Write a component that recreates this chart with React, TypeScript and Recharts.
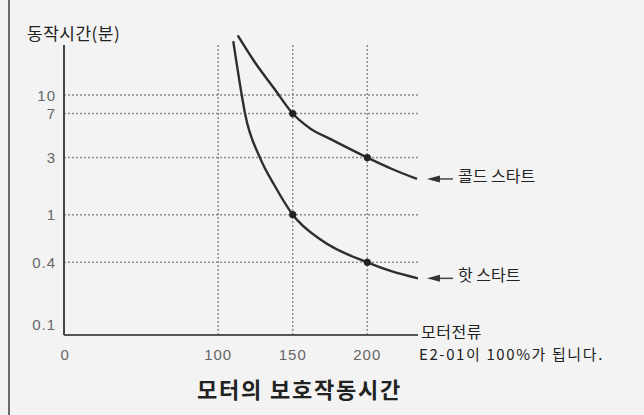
import React from 'react';
import { ComposedChart, Line, XAxis, YAxis, ReferenceLine, ReferenceDot } from 'recharts';

// ---- data ----
const xTicks = [0, 100, 150, 200];
const yTicks = [0.1, 0.4, 1, 3, 7, 10];
const xGridValues = [100, 150, 200];
const yGridValues = [0.4, 1, 3, 7, 10];

const coldStart = [
  { x: 113.1, y: 31.5 },
  { x: 124.7, y: 18.7 },
  { x: 137.4, y: 11.4 },
  { x: 150, y: 7 },
  { x: 162.2, y: 5.2 },
  { x: 175.0, y: 4.3 },
  { x: 200, y: 3 },
  { x: 216.6, y: 2.41 },
  { x: 233.3, y: 1.99 },
];

const hotStart = [
  { x: 110.1, y: 28.2 },
  { x: 115.8, y: 10 },
  { x: 118.0, y: 7 },
  { x: 128.0, y: 3 },
  { x: 138.1, y: 1.73 },
  { x: 150, y: 1 },
  { x: 169.6, y: 0.608 },
  { x: 200, y: 0.4 },
  { x: 216.6, y: 0.336 },
  { x: 234.0, y: 0.294 },
];

const coldMarkers = [
  { x: 150, y: 7 },
  { x: 200, y: 3 },
];
const hotMarkers = [
  { x: 150, y: 1 },
  { x: 200, y: 0.4 },
];

const coldLabel = '콜드 스타트';
const hotLabel = '핫 스타트';
const yAxisTitle = '동작시간(분)';
const xAxisTitle = '모터전류';
const xAxisNote = 'E2-01이 100%가 됩니다.';
const chartTitle = '모터의 보호작동시간';

// ---- scale settings ----
const X_MIN = -3.4;
const X_MAX = 234;
const Y_MIN = 0.0989;
const Y_MAX = 32.96;
const AXIS_TOP = 26.2; // value where the drawn y axis / vertical grid stop
const ARROW_HEAD_X = 240;
const ARROW_TAIL_X = 256.5;

const KR_FONT = '"Noto Sans CJK KR", "Noto Sans", sans-serif';
const NUM_FONT = '"Liberation Sans", Arial, sans-serif';

const ArrowShape = (props: any) => {
  const { x1, y1, x2, text } = props;
  const hx = Math.min(x1, x2);
  return (
    <g>
      <line x1={hx + 10} y1={y1} x2={hx + 26} y2={y1} stroke="#444" strokeWidth={1.5} />
      <polygon points={`${hx},${y1} ${hx + 13},${y1 - 3.5} ${hx + 13},${y1 + 3.5}`} fill="#333" />
      <text
        x={hx + 31}
        y={y1 - 4}
        dominantBaseline="central"
        fontSize={16}
        fontFamily={KR_FONT}
        fill="#222"
      >
        {text}
      </text>
    </g>
  );
};

const YTick = (props: any) => {
  const { x, y, payload } = props;
  const lift = payload.value === yTicks[0] ? -10 : 0;
  return (
    <text
      x={x}
      y={y + lift}
      textAnchor="end"
      dominantBaseline="central"
      fill="#666"
      fontSize={15}
      fontFamily={NUM_FONT}
      letterSpacing={1}
    >
      {String(payload.value)}
    </text>
  );
};

const XTick = (props: any) => {
  const { x, y, payload } = props;
  const shift = payload.value === xTicks[0] ? -4 : 0;
  return (
    <text
      x={x + shift}
      y={y}
      dy="0.71em"
      textAnchor="middle"
      fill="#666"
      fontSize={15}
      fontFamily={NUM_FONT}
      letterSpacing={1}
    >
      {String(payload.value)}
    </text>
  );
};

export default function App() {
  const textStyle: React.CSSProperties = {
    position: 'absolute',
    fontFamily: KR_FONT,
    color: '#222',
    whiteSpace: 'nowrap',
  };
  return (
    <div
      style={{
        position: 'fixed',
        left: 0,
        top: 0,
        width: 644,
        height: 415,
        background: '#f3f3f3',
        overflow: 'hidden',
      }}
    >
      <div style={{ position: 'absolute', left: 8, top: 0, width: 1.5, height: 415, background: '#6a6a6a' }} />
      <ComposedChart
        width={644}
        height={415}
        margin={{ top: 33, right: 226, bottom: 50, left: 14 }}
        style={{ position: 'absolute', left: 0, top: 0 }}
      >
        <XAxis
          type="number"
          dataKey="x"
          domain={[X_MIN, X_MAX]}
          ticks={xTicks}
          interval={0}
          allowDataOverflow
          height={30}
          tickLine={false}
          tickMargin={8}
          axisLine={{ stroke: '#555', strokeWidth: 2 }}
          tick={<XTick />}
        />
        <YAxis
          type="number"
          dataKey="y"
          scale="log"
          domain={[Y_MIN, Y_MAX]}
          ticks={yTicks}
          interval={0}
          allowDataOverflow
          width={50}
          tickLine={false}
          axisLine={false}
          tick={<YTick />}
        />
        {yGridValues.map((v) => (
          <ReferenceLine key={`hy${v}`} y={v} stroke="#8c8c8c" strokeWidth={1.5} strokeDasharray="2 2" />
        ))}
        {xGridValues.map((v) => (
          <ReferenceLine
            key={`vx${v}`}
            segment={[
              { x: v, y: Y_MIN },
              { x: v, y: AXIS_TOP },
            ]}
            stroke="#8c8c8c"
            strokeWidth={1.5}
            strokeDasharray="2 2"
          />
        ))}
        <ReferenceLine
          segment={[
            { x: X_MIN, y: Y_MIN },
            { x: X_MIN, y: AXIS_TOP },
          ]}
          stroke="#444"
          strokeWidth={2}
        />
        <Line
          data={coldStart}
          dataKey="y"
          type="monotone"
          stroke="#2e2e2e"
          strokeWidth={2.4}
          dot={false}
          activeDot={false}
          isAnimationActive={false}
        />
        <Line
          data={hotStart}
          dataKey="y"
          type="monotone"
          stroke="#2e2e2e"
          strokeWidth={2.4}
          dot={false}
          activeDot={false}
          isAnimationActive={false}
        />
        {[...coldMarkers, ...hotMarkers].map((p, i) => (
          <ReferenceDot key={`m${i}`} x={p.x} y={p.y} r={3.6} fill="#222" stroke="none" />
        ))}
        <ReferenceLine
          ifOverflow="visible"
          segment={[
            { x: ARROW_HEAD_X, y: coldStart[coldStart.length - 1].y },
            { x: ARROW_TAIL_X, y: coldStart[coldStart.length - 1].y },
          ]}
          shape={(p: any) => <ArrowShape {...p} text={coldLabel} />}
        />
        <ReferenceLine
          ifOverflow="visible"
          segment={[
            { x: ARROW_HEAD_X, y: hotStart[hotStart.length - 1].y },
            { x: ARROW_TAIL_X, y: hotStart[hotStart.length - 1].y },
          ]}
          shape={(p: any) => <ArrowShape {...p} text={hotLabel} />}
        />
      </ComposedChart>
      <div style={{ ...textStyle, left: 27, top: 24, fontSize: 17, letterSpacing: 0.5, lineHeight: '18px' }}>
        {yAxisTitle}
      </div>
      <div style={{ ...textStyle, left: 421, top: 319, fontSize: 16, letterSpacing: 0.5 }}>{xAxisTitle}</div>
      <div style={{ ...textStyle, left: 419, top: 343, fontSize: 15, letterSpacing: 1.6 }}>{xAxisNote}</div>
      <div
        style={{
          ...textStyle,
          left: 197,
          top: 376,
          fontSize: 22,
          fontWeight: 700,
          lineHeight: '24px',
          letterSpacing: 1.8,
        }}
      >
        {chartTitle}
      </div>
    </div>
  );
}
